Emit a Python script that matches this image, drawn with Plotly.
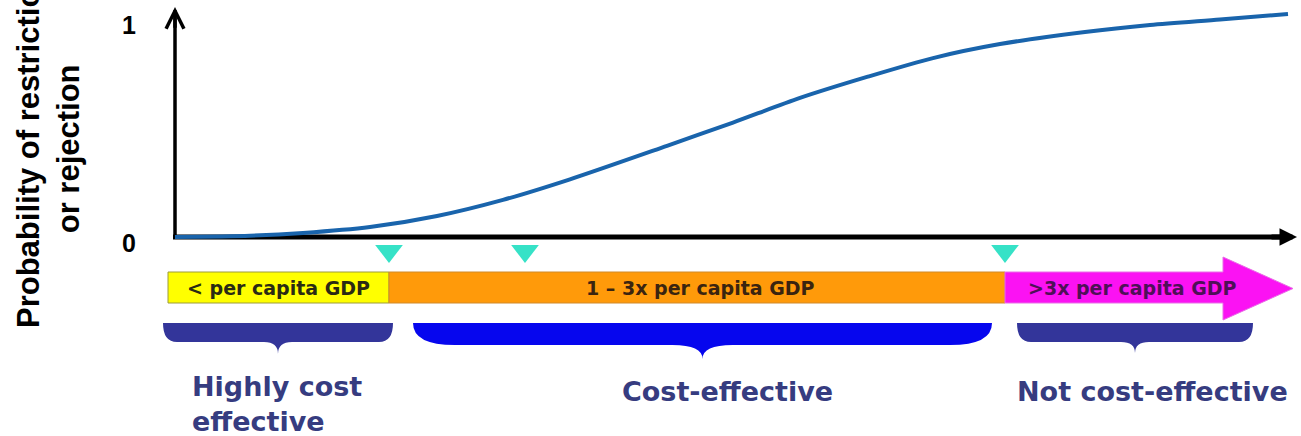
import plotly.graph_objects as go

W, H = 1301, 436

# ---------------- data ----------------
# probability curve: position along the cost-effectiveness axis vs probability
curve_x = [175, 250, 303, 370, 437, 503, 570, 667, 733, 800, 867, 933, 1000, 1085, 1150, 1220, 1288]
curve_p = [0.0, 0.006, 0.019, 0.047, 0.099, 0.175, 0.272, 0.43, 0.54, 0.656, 0.755, 0.844, 0.91, 0.967, 1.0, 1.026, 1.052]

tick_vals = [0, 1]
tick_text = ["0", "1"]
y_title = "Probability of restriction<br>or rejection"

# GDP threshold bar segments
seg_labels = ["< per capita GDP", "1 – 3x per capita GDP", ">3x per capita GDP"]
seg_start = [168, 389, 1005]
seg_end = [389, 1005, 1293]
seg_text_x = [278, 700, 1132]
seg_colors = ["#ffff00", "#ff9a0a", "#fb12f3"]
seg_lines = ["#9c9c3a", "#d08a2a", "#e86ee6"]
seg_text_colors = ["#2a2a14", "#3a2410", "#4e1057"]

# threshold markers
marker_x = [389, 525, 1005]

# category braces and labels
cat_labels = ["Highly cost<br>effective", "Cost-effective", "Not cost-effective"]
brace_start = [163, 413, 1017]
brace_end = [393, 992, 1253]
brace_colors = ["#33359a", "#0606ee", "#33359a"]
cat_text_x = [190, 727, 1152]
cat_anchor = ["left", "center", "center"]

# ---------------- layout constants (pixel rows on y2) ----------------
Y0_PX, Y1_PX = 237, 25                   # rows of probability 0 and 1
PPX = Y0_PX - Y1_PX
BAR_TOP, BAR_BOT = 272, 303
HEAD_TOP, HEAD_BOT, HEAD_X = 257, 320, 1223
MARK_Y = 251
BR_TOP = 323

def brace_path(x0, x1, top, bot, tip, r, notch):
    xc = (x0 + x1) / 2
    return (f"M {x0},{top} L {x1},{top} Q {x1},{bot} {x1 - r},{bot} "
            f"L {xc + notch},{bot} Q {xc},{bot} {xc},{tip} Q {xc},{bot} {xc - notch},{bot} "
            f"L {x0 + r},{bot} Q {x0},{bot} {x0},{top} Z")

fig = go.Figure()

# axes lines (drawn as traces so that the curve lies on top)
fig.add_trace(go.Scatter(x=[175, 175], y=[0, 1.07], mode="lines",
                         line=dict(color="black", width=3.5), hoverinfo="skip"))
fig.add_trace(go.Scatter(x=[173, 1285], y=[0, 0], mode="lines",
                         line=dict(color="black", width=5), hoverinfo="skip"))

# curve
fig.add_trace(go.Scatter(x=curve_x, y=curve_p, mode="lines",
                         line=dict(color="#1964ac", width=4, shape="spline", smoothing=0.8),
                         hoverinfo="skip"))

# threshold markers
fig.add_trace(go.Scatter(x=marker_x, y=[MARK_Y] * len(marker_x), yaxis="y2", mode="markers",
                         marker=dict(symbol="triangle-down", size=24, color="#36e2c7",
                                     line=dict(width=0)), hoverinfo="skip"))

shapes = []
# yellow and orange rectangles
for i in range(2):
    shapes.append(dict(type="rect", xref="x", yref="y2", x0=seg_start[i], x1=seg_end[i],
                       y0=BAR_TOP, y1=BAR_BOT, fillcolor=seg_colors[i],
                       line=dict(color=seg_lines[i], width=1), layer="below"))
# magenta arrow
mid = (BAR_TOP + BAR_BOT) / 2 + 1
shapes.append(dict(type="path", xref="x", yref="y2",
                   path=(f"M {seg_start[2]},{BAR_TOP} L {HEAD_X},{BAR_TOP} L {HEAD_X},{HEAD_TOP} "
                         f"L {seg_end[2]},{mid} L {HEAD_X},{HEAD_BOT} L {HEAD_X},{BAR_BOT} "
                         f"L {seg_start[2]},{BAR_BOT} Z"),
                   fillcolor=seg_colors[2], line=dict(color=seg_lines[2], width=1), layer="below"))
# braces
brace_geom = [(342, 354, 14, 14), (345, 359, 42, 30), (342, 353, 14, 14)]
for i in range(3):
    bot, tip, r, notch = brace_geom[i]
    shapes.append(dict(type="path", xref="x", yref="y2",
                       path=brace_path(brace_start[i], brace_end[i], BR_TOP, bot, tip, r, notch),
                       fillcolor=brace_colors[i], line=dict(width=0), layer="below"))

annotations = []
# axis arrowheads
annotations.append(dict(x=175, y=(Y0_PX - 7) / PPX, ax=175, ay=0.98, xref="x", yref="y",
                        axref="x", ayref="y", text="", showarrow=True, arrowhead=5,
                        arrowsize=1.0, arrowwidth=3.5, arrowcolor="black", standoff=0))
annotations.append(dict(x=1297, y=0, ax=1270, ay=0, xref="x", yref="y",
                        axref="x", ayref="y", text="", showarrow=True, arrowhead=2,
                        arrowsize=0.7, arrowwidth=5, arrowcolor="black", standoff=0))
# tick labels
for v, t in zip(tick_vals, tick_text):
    annotations.append(dict(x=129, y=v, xref="x", yref="y", text=t, showarrow=False,
                            yshift=(-6 if v == 0 else 0),
                            font=dict(family="Liberation Sans, Arial", size=25, color="black",
                                      weight="bold")))
# axis title
annotations.append(dict(x=48, y=149, xref="x", yref="y2", text=y_title, showarrow=False,
                        textangle=-90, align="center",
                        font=dict(family="Liberation Sans, Arial", size=31, color="black",
                                  weight="bold")))
# bar labels
for i in range(3):
    annotations.append(dict(x=seg_text_x[i], y=288, xref="x", yref="y2", text=seg_labels[i],
                            showarrow=False,
                            font=dict(family="DejaVu Sans", size=19, color=seg_text_colors[i],
                                      weight="bold")))
# category labels
for i in range(3):
    annotations.append(dict(x=cat_text_x[i], y=(404 if i == 0 else 391), xref="x", yref="y2",
                            text=cat_labels[i], showarrow=False, xanchor=cat_anchor[i],
                            align="left",
                            font=dict(family="DejaVu Sans", size=27, color="#363c80",
                                      weight="bold")))

fig.update_layout(
    width=W, height=H, margin=dict(l=0, r=0, t=0, b=0),
    paper_bgcolor="white", plot_bgcolor="white", showlegend=False,
    xaxis=dict(range=[0, W], visible=False, domain=[0, 1]),
    yaxis=dict(range=[-(H - Y0_PX) / PPX, Y0_PX / PPX], visible=False, domain=[0, 1]),
    yaxis2=dict(range=[H, 0], visible=False, overlaying="y", domain=[0, 1]),
    shapes=shapes, annotations=annotations,
)

fig.write_html("out.html")
